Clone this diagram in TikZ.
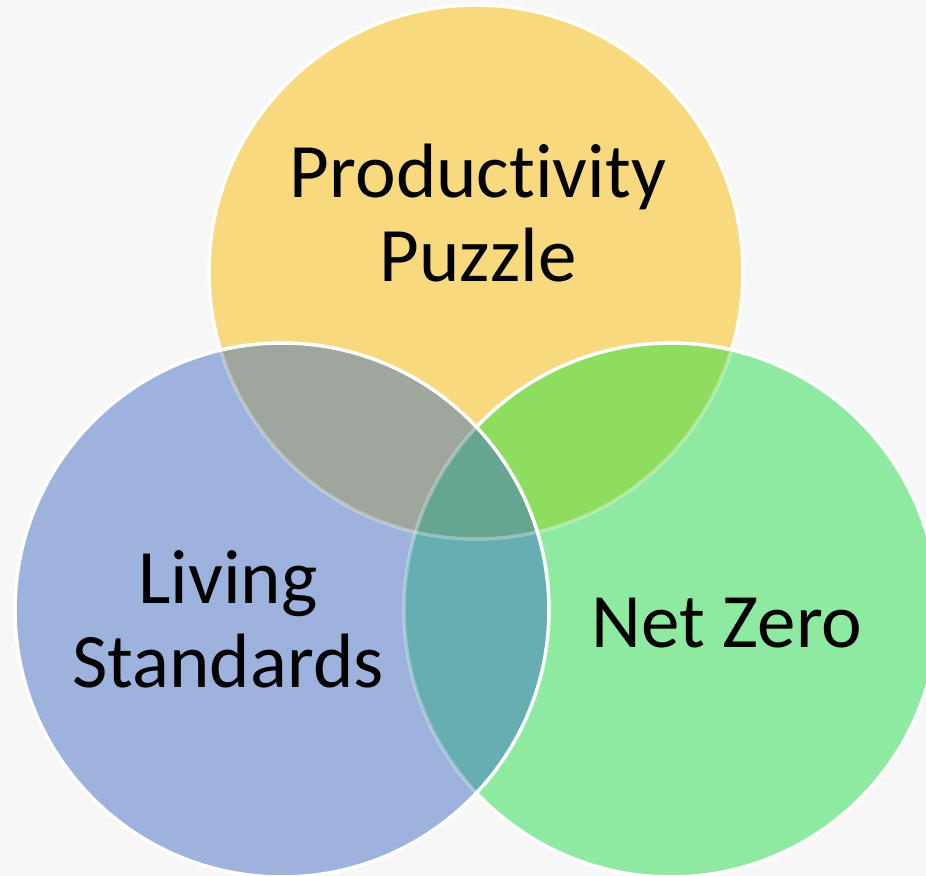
\documentclass[tikz,border=0pt]{standalone}
\usepackage{fontspec}
\setmainfont{Carlito}[Ligatures=NoCommon]
\usepackage{tikz}
\usetikzlibrary{positioning}

\definecolor{bgGrey}{HTML}{F7F7F7}
\definecolor{prodYellow}{HTML}{F8D97E}
\definecolor{liveBlue}{HTML}{9DB3DD}
\definecolor{zeroGreen}{HTML}{8EEAA0}
\definecolor{prodLive}{HTML}{9FA69D}
\definecolor{prodZero}{HTML}{8FDD5F}
\definecolor{liveZero}{HTML}{66AEB2}
\definecolor{allThree}{HTML}{66A590}

\begin{document}
\begin{tikzpicture}[x=0.01cm,y=-0.01cm,
    rim/.style={white,line width=1pt},
    faintrim/.style={white,line width=1pt,opacity=0.3},
    label/.style={font={\fontsize{21.9pt}{23.9pt}\selectfont},align=center,anchor=base}]
  % page and background
  \useasboundingbox (0,0) rectangle (926,876);
  \clip (0,0) rectangle (926,876);
  \fill[bgGrey] (0,0) rectangle (926,876);

  \def\R{267}
  \coordinate (prod) at (476,272);
  \coordinate (live) at (282,610);
  \coordinate (zero) at (671,610);

  % top circle
  \fill[prodYellow] (prod) circle (\R);
  \draw[rim] (prod) circle (\R);

  % right circle, over the top one
  \fill[zeroGreen] (zero) circle (\R);
  \begin{scope}
    \clip (zero) circle (\R);
    \fill[prodZero] (prod) circle (\R);
    \draw[faintrim] (prod) circle (\R);
  \end{scope}
  \draw[rim] (zero) circle (\R);

  % left circle, on top of both
  \fill[liveBlue] (live) circle (\R);
  \begin{scope}
    \clip (live) circle (\R);
    \fill[prodLive] (prod) circle (\R);
    \fill[liveZero] (zero) circle (\R);
    \begin{scope}
      \clip (zero) circle (\R);
      \fill[allThree] (prod) circle (\R);
    \end{scope}
    \draw[faintrim] (prod) circle (\R);
    \draw[faintrim] (zero) circle (\R);
  \end{scope}
  \draw[rim] (live) circle (\R);

  % labels (anchored on the baseline of the last line)
  \node[label] (prodText) at (478,282) {Productivity\\Puzzle};
  \node[label] (liveText) at (228,688) {Living\\Standards};
  \node[label] (zeroText) at (727,648) {Net Zero};
\end{tikzpicture}
\end{document}
